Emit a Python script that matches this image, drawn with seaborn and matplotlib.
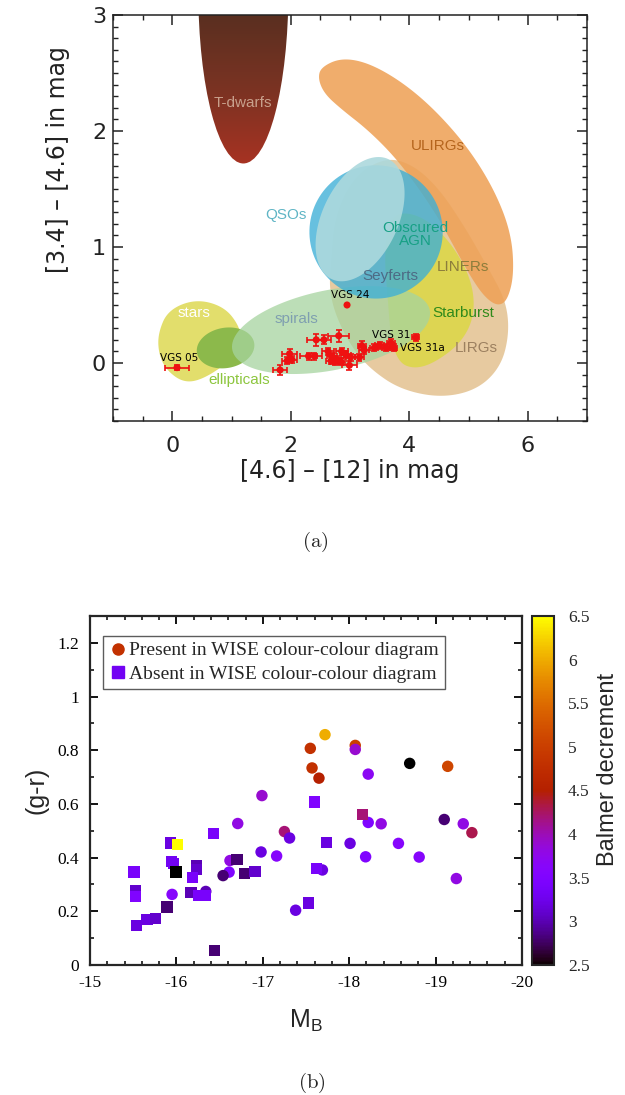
import numpy as np
import matplotlib
matplotlib.use('Agg')
import matplotlib.pyplot as plt
import seaborn as sns
import pandas as pd
from matplotlib.patches import Polygon, Ellipse
from matplotlib.lines import Line2D
from matplotlib.colors import Normalize, LinearSegmentedColormap
from matplotlib.ticker import MultipleLocator, FormatStrFormatter
from matplotlib.cm import ScalarMappable

# ---------------- panel (a): WISE colour-colour diagram ----------------
# void galaxies: [4.6]-[12] (x) and [3.4]-[4.6] (y)
wise_x = [0.08, 1.82, 1.94, 1.98, 2.02, 2.30, 2.40, 2.43, 2.56, 2.81,
          2.63, 2.68, 2.74, 2.86, 2.93, 2.99, 3.01, 2.85, 3.16, 3.20,
          3.24, 3.41, 3.50, 3.61, 3.69, 3.74, 4.11, 2.95, 2.70, 2.78]
wise_y = [-0.04, -0.06, 0.02, 0.08, 0.03, 0.06, 0.06, 0.20, 0.20, 0.235,
          0.10, 0.02, 0.01, 0.10, 0.07, -0.02, 0.05, 0.01, 0.05, 0.15,
          0.11, 0.13, 0.155, 0.13, 0.175, 0.13, 0.22, 0.50, 0.06, 0.03]
wise_xerr = [0.21, 0.12, 0.08, 0.12, 0.08, 0.15, 0.12, 0.15, 0.12, 0.18,
             0.10, 0.08, 0.08, 0.10, 0.08, 0.12, 0.08, 0.06, 0.08, 0.07,
             0.08, 0.07, 0.07, 0.07, 0.07, 0.06, 0.06, 0.0, 0.08, 0.08]
wise_yerr = [0.02, 0.04, 0.03, 0.04, 0.03, 0.03, 0.03, 0.05, 0.04, 0.05,
             0.03, 0.03, 0.03, 0.03, 0.03, 0.04, 0.03, 0.03, 0.03, 0.04,
             0.03, 0.03, 0.03, 0.03, 0.03, 0.03, 0.03, 0.0, 0.03, 0.03]

vgs_names = ['VGS 05', 'VGS 24', 'VGS 31', 'VGS 31a']
vgs_label_x = [0.11, 3.01, 3.70, 4.22]
vgs_label_y = [0.04, 0.59, 0.245, 0.13]

# class regions (Wright et al. 2010), outlines in data units
lirg_outline = [(2.68, 0.83), (2.74, 1.26), (3.07, 1.61), (3.58, 1.77), (4.03, 1.72),
                (4.48, 1.52), (4.93, 1.18), (5.32, 0.83), (5.63, 0.54), (5.69, 0.26),
                (5.55, -0.03), (5.15, -0.23), (4.54, -0.30), (3.86, -0.23), (3.36, -0.06),
                (3.02, 0.14), (2.74, 0.43), (2.65, 0.66)]
ulirg_outline = [(2.51, 2.55), (2.85, 2.63), (3.30, 2.59), (3.86, 2.43), (4.42, 2.19),
                 (4.99, 1.86), (5.44, 1.49), (5.72, 1.12), (5.77, 0.77), (5.66, 0.54),
                 (5.49, 0.49), (5.27, 0.57), (5.04, 0.74), (4.76, 1.00), (4.48, 1.26),
                 (4.14, 1.52), (3.75, 1.78), (3.30, 2.01), (2.85, 2.19), (2.57, 2.32),
                 (2.46, 2.45)]
liner_outline = [(3.86, 1.31), (4.31, 1.24), (4.76, 1.00), (5.07, 0.69), (5.10, 0.40),
                 (4.87, 0.17), (4.42, 0.0), (4.09, -0.05), (3.83, 0.0), (3.69, 0.20),
                 (3.64, 0.54), (3.58, 0.89), (3.64, 1.20)]
stars_outline = [(-0.24, 0.256), (-0.07, 0.457), (0.40, 0.552), (0.88, 0.485), (1.14, 0.313),
                 (1.16, 0.17), (0.94, 0.0), (0.49, -0.147), (0.18, -0.167), (-0.10, -0.06),
                 (-0.23, 0.08)]
# ellipses: centre x, centre y, semi-axes (x units, on screen), angle
qso_ell = (3.44, 1.13, 1.125, 1.125, 0.0)
qso_light_ell = (3.17, 1.24, 1.12, 0.64, 64.7)
spiral_ell = (2.68, 0.284, 1.70, 0.675, 11.4)
elliptical_ell = (0.90, 0.13, 0.49, 0.34, 10.0)
tdwarf_ell = (1.2, 3.2, 0.76, 1.48)

region_names = ['T-dwarfs', 'ULIRGs', 'QSOs', 'Obscured\nAGN', 'LINERs', 'Seyferts',
                'Starburst', 'LIRGs', 'stars', 'spirals', 'ellipticals']
region_label_x = [1.20, 4.48, 1.92, 4.10, 4.90, 3.68, 4.92, 5.13, 0.37, 2.09, 1.13]
region_label_y = [2.24, 1.87, 1.28, 1.11, 0.83, 0.75, 0.43, 0.13, 0.43, 0.38, -0.15]
region_label_colors = ['#c8a08c', '#b5651d', '#5fb5c5', '#17a085', '#8c7d3c', '#4d6b85',
                       '#2f8a1a', '#9c8060', 'white', '#7f9fb0', '#8dc63f']

# ---------------- panel (b): colour-magnitude ----------------
present_mb = [-17.72, -17.55, -18.07, -18.07, -17.57, -17.65, -18.70, -19.14, -18.22, -16.99,
              -16.71, -17.25, -17.31, -18.22, -18.37, -19.10, -19.32, -19.42, -18.01, -18.57,
              -18.19, -18.81, -19.24, -16.98, -17.16, -16.62, -16.61, -16.54, -17.69, -17.38,
              -15.95, -16.34]
present_gr = [0.858, 0.807, 0.818, 0.803, 0.734, 0.696, 0.751, 0.740, 0.711, 0.631,
              0.527, 0.497, 0.473, 0.531, 0.526, 0.542, 0.526, 0.493, 0.453, 0.453,
              0.403, 0.402, 0.322, 0.421, 0.406, 0.389, 0.346, 0.333, 0.354, 0.204,
              0.263, 0.274]
present_balmer = [6.0, 4.8, 5.0, 3.9, 4.8, 4.5, 2.5, 5.1, 3.7, 3.9,
                  3.8, 4.2, 3.2, 3.5, 3.8, 2.8, 3.8, 4.3, 3.2, 3.6,
                  3.5, 3.6, 3.8, 3.2, 3.6, 3.8, 3.5, 2.8, 3.2, 3.2,
                  3.6, 3.0]
absent_mb = [-17.60, -18.15, -16.43, -15.93, -16.01, -17.74, -15.94, -15.97, -15.995, -15.51,
             -16.23, -16.23, -16.19, -16.70, -16.79, -16.91, -17.62, -15.53, -15.53, -16.17,
             -16.26, -16.34, -15.89, -17.53, -15.54, -15.66, -15.76, -16.44]
absent_gr = [0.607, 0.560, 0.489, 0.454, 0.448, 0.455, 0.385, 0.379, 0.346, 0.346,
             0.370, 0.356, 0.326, 0.394, 0.341, 0.348, 0.360, 0.278, 0.256, 0.270,
             0.260, 0.260, 0.216, 0.231, 0.148, 0.169, 0.174, 0.053]
absent_balmer = [3.5, 4.2, 3.4, 3.2, 6.5, 3.2, 3.3, 3.3, 2.5, 3.4,
                 3.0, 3.1, 3.4, 2.8, 2.8, 3.1, 3.4, 3.1, 3.5, 3.0,
                 3.4, 3.4, 2.8, 3.2, 3.2, 3.2, 3.1, 2.8]
legend_labels = ['Present in WISE colour-colour diagram', 'Absent in WISE colour-colour diagram']


def smooth(pts, n=4):
    # Chaikin corner cutting for a closed outline
    p = np.asarray(pts, float)
    for _ in range(n):
        q = np.roll(p, -1, axis=0)
        out = np.empty((2 * len(p), 2))
        out[0::2] = 0.75 * p + 0.25 * q
        out[1::2] = 0.25 * p + 0.75 * q
        p = out
    return p


def screen_ellipse(ell, k, n=120):
    # ellipse that is round on screen although the axes have unequal scales
    cx, cy, a, b, ang = ell
    t = np.linspace(0, 2 * np.pi, n)
    th = np.radians(ang)
    x = cx + a * np.cos(t) * np.cos(th) - b * np.sin(t) * np.sin(th)
    y = cy + (a * np.cos(t) * np.sin(th) + b * np.sin(t) * np.cos(th)) / k
    return np.column_stack([x, y])


sns.set_style('ticks')
plt.rcParams['font.family'] = ['DejaVu Sans']
plt.rcParams['mathtext.fontset'] = 'custom'
plt.rcParams['mathtext.rm'] = 'Liberation Sans'

fig = plt.figure(figsize=(6.25, 10.95), dpi=100)

# ---------------- top panel ----------------
pos1 = [113 / 625, 1 - 421 / 1095, 474 / 625, 406 / 1095]
ax1 = fig.add_axes(pos1)
xlim1, ylim1 = (-1, 7), (-0.5, 3)
k = (pos1[3] * 10.95 / (ylim1[1] - ylim1[0])) / (pos1[2] * 6.25 / (xlim1[1] - xlim1[0]))

ax1.add_patch(Polygon(smooth(lirg_outline), closed=True, fc='#e6c89b', ec='none', alpha=0.95, zorder=1))
ax1.add_patch(Polygon(smooth(liner_outline), closed=True, fc='#ddd64e', ec='none', alpha=0.95, zorder=2))
ax1.add_patch(Polygon(smooth(ulirg_outline), closed=True, fc='#eea258', ec='none', alpha=0.88, zorder=3))
ax1.add_patch(Polygon(screen_ellipse(qso_ell, k), closed=True, fc='#3cafd7', ec='none', alpha=0.78, zorder=5))
ax1.add_patch(Polygon(screen_ellipse(qso_light_ell, k), closed=True, fc='#acd9dd', ec='none', alpha=0.9, zorder=6))
ax1.add_patch(Polygon(smooth(stars_outline), closed=True, fc='#e2de6c', ec='none', zorder=2))
ax1.add_patch(Polygon(screen_ellipse(elliptical_ell, k), closed=True, fc='#8cb94b', ec='none', zorder=3))
ax1.add_patch(Polygon(screen_ellipse(spiral_ell, k), closed=True, fc='#a6d49f', ec='none', alpha=0.75, zorder=4))

# T-dwarf region with a vertical gradient
td = Ellipse(tdwarf_ell[:2], 2 * tdwarf_ell[2], 2 * tdwarf_ell[3], fc='none', ec='none')
ax1.add_patch(td)
td_cmap = LinearSegmentedColormap.from_list('td', ['#5a2f20', '#7b3323', '#a83222'])
grad = np.linspace(0, 1, 256).reshape(-1, 1)
im = ax1.imshow(grad, extent=(0.4, 2.0, 1.7, 3.0), origin='upper', cmap=td_cmap,
                aspect='auto', zorder=2)
im.set_clip_path(td)

for name, lx, ly, c in zip(region_names, region_label_x, region_label_y, region_label_colors):
    ax1.text(lx, ly, name, color=c, fontsize=11, family='Liberation Sans',
             ha='center', va='center', zorder=8, linespacing=0.95)

ax1.errorbar(wise_x, wise_y, xerr=wise_xerr, yerr=wise_yerr, fmt='none',
             ecolor='#ee1111', elinewidth=1.2, capsize=2.5, capthick=1.2, zorder=9)
sns.scatterplot(x=wise_x, y=wise_y, color='#ee1111', s=26, edgecolor='none', ax=ax1, zorder=10)
for name, lx, ly in zip(vgs_names, vgs_label_x, vgs_label_y):
    ax1.text(lx, ly, name, fontsize=7.5, ha='center', va='center', color='black', zorder=11)

ax1.set_xlim(*xlim1)
ax1.set_ylim(*ylim1)
ax1.xaxis.set_major_locator(MultipleLocator(2))
ax1.xaxis.set_minor_locator(MultipleLocator(0.5))
ax1.yaxis.set_major_locator(MultipleLocator(1))
ax1.yaxis.set_minor_locator(MultipleLocator(0.1))
ax1.tick_params(which='both', direction='in', top=True, right=True, colors='#222222', labelcolor='#222222')
ax1.tick_params(which='major', length=7, width=1.1, labelsize=16)
ax1.tick_params(which='minor', length=3.5, width=1.0)
ax1.tick_params(axis='x', pad=11)
ax1.tick_params(axis='y', pad=5)
for sp in ax1.spines.values():
    sp.set_linewidth(1.1)
    sp.set_color('#222222')
ax1.set_xlabel('[4.6] \u2013 [12] in mag', fontsize=17, color='#222222', labelpad=2)
ax1.set_ylabel('[3.4] \u2013 [4.6] in mag', fontsize=17, color='#222222')
ax1.yaxis.set_label_coords(-0.09, 0.645)

fig.text(315 / 625, 1 - 542 / 1095, r'$\mathrm{(a)}$', math_fontfamily='cm',
         fontsize=15, ha='center', va='center')

# ---------------- bottom panel ----------------
ax2 = fig.add_axes([90 / 625, 1 - 965 / 1095, 432 / 625, 349 / 1095])
cax = fig.add_axes([532 / 625, 1 - 965 / 1095, 22 / 625, 349 / 1095])
norm = Normalize(2.5, 6.5)

present = pd.DataFrame({'mb': present_mb, 'gr': present_gr, 'balmer': present_balmer})
absent = pd.DataFrame({'mb': absent_mb, 'gr': absent_gr, 'balmer': absent_balmer})
sns.scatterplot(data=present, x='mb', y='gr', hue='balmer', palette='gnuplot', hue_norm=norm,
                marker='o', s=68, edgecolor='none', legend=False, ax=ax2, zorder=3)
sns.scatterplot(data=absent, x='mb', y='gr', hue='balmer', palette='gnuplot', hue_norm=norm,
                marker='s', s=66, edgecolor='none', legend=False, ax=ax2, zorder=4)

ax2.set_xlim(-15, -20)
ax2.set_ylim(0, 1.3)
ax2.xaxis.set_major_locator(MultipleLocator(1))
ax2.xaxis.set_minor_locator(MultipleLocator(0.2))
ax2.yaxis.set_major_locator(MultipleLocator(0.2))
ax2.yaxis.set_minor_locator(MultipleLocator(0.1))
ax2.yaxis.set_major_formatter(FormatStrFormatter('%g'))
ax2.xaxis.set_major_formatter(FormatStrFormatter('%g'))
ax2.tick_params(which='both', direction='in', top=True, right=True, colors='black')
ax2.tick_params(which='major', length=6, width=1.3, labelsize=12.5)
ax2.tick_params(which='minor', length=3, width=1.1)
ax2.tick_params(axis='x', pad=7)
ax2.tick_params(axis='y', pad=8)
for lab in ax2.get_xticklabels() + ax2.get_yticklabels():
    lab.set_family('Liberation Serif')
for sp in ax2.spines.values():
    sp.set_linewidth(1.6)
ax2.set_xlabel(r'$\mathrm{M_B}$', fontsize=18, labelpad=12)
ax2.set_ylabel('(g-r)', fontsize=18, family='Liberation Sans', labelpad=6)

handles = [Line2D([], [], marker='o', ls='none', color=plt.get_cmap('gnuplot')(norm(4.8)), ms=8),
           Line2D([], [], marker='s', ls='none', color=plt.get_cmap('gnuplot')(norm(3.3)), ms=8)]
leg = ax2.legend(handles, legend_labels, loc='upper left', bbox_to_anchor=(0.03, 0.943),
                 prop={'family': 'Liberation Serif', 'size': 14}, frameon=True, fancybox=False,
                 handletextpad=0.15, handlelength=0.9, borderpad=0.3, labelspacing=0.3,
                 borderaxespad=0.0)
leg.get_frame().set_edgecolor('#333333')
leg.get_frame().set_linewidth(1.0)

sm = ScalarMappable(norm=norm, cmap='gnuplot')
cb = fig.colorbar(sm, cax=cax)
cb.set_ticks(np.arange(2.5, 6.6, 0.5))
cb.ax.yaxis.set_major_formatter(FormatStrFormatter('%g'))
cb.ax.tick_params(direction='in', left=True, right=True, length=5, width=1.2, labelsize=12.5, pad=10)
for lab in cb.ax.get_yticklabels():
    lab.set_family('Liberation Serif')
cb.outline.set_linewidth(1.5)
cb.set_label('Balmer decrement', fontsize=17, family='Liberation Sans', labelpad=8)
cb.ax.yaxis.set_label_coords(2.95, 0.56)

fig.text(312 / 625, 1 - 1083 / 1095, r'$\mathrm{(b)}$', math_fontfamily='cm',
         fontsize=15, ha='center', va='center')

fig.savefig('out.png', dpi=100)
